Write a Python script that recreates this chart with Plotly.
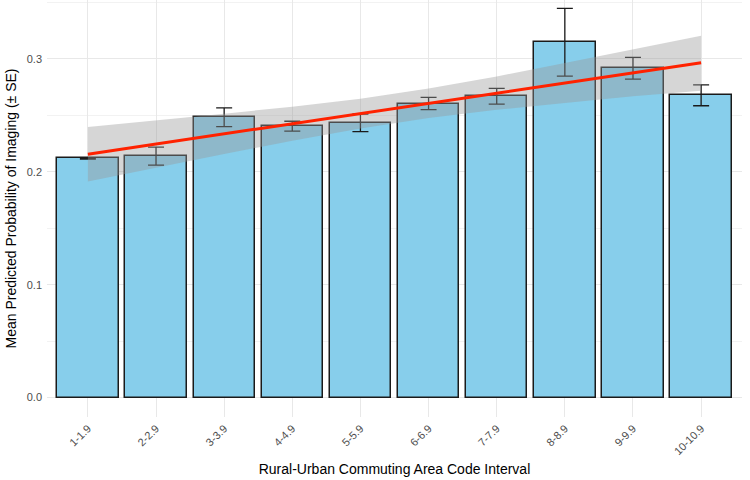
import plotly.graph_objects as go

categories = ["1-1.9", "2-2.9", "3-3.9", "4-4.9", "5-5.9",
              "6-6.9", "7-7.9", "8-8.9", "9-9.9", "10-10.9"]
mean_prob = [0.2118, 0.2139, 0.2484, 0.2404, 0.2434,
             0.2605, 0.2669, 0.3147, 0.2917, 0.2678]
se_prob = [0.0005, 0.0080, 0.0083, 0.0044, 0.0078,
           0.0055, 0.0070, 0.0300, 0.0096, 0.0093]
# fitted trend line and its confidence band, read at each category position
trend_fit = [0.2156, 0.2246, 0.2336, 0.2426, 0.2516,
             0.2607, 0.2697, 0.2787, 0.2877, 0.2967]
trend_upper = [0.2398, 0.2455, 0.2515, 0.2577, 0.2648,
               0.2738, 0.2845, 0.2965, 0.3085, 0.3206]
trend_lower = [0.1914, 0.2037, 0.2157, 0.2275, 0.2384,
               0.2476, 0.2549, 0.2609, 0.2669, 0.2719]

pos = list(range(1, len(categories) + 1))

fig = go.Figure()
fig.add_trace(go.Bar(
    x=pos, y=mean_prob, width=0.9,
    marker=dict(color="#87CEEB", line=dict(color="#1a1a1a", width=1.5)),
    error_y=dict(type="data", array=se_prob, visible=True,
                 color="#1a1a1a", thickness=1.3, width=8),
    showlegend=False, hoverinfo="skip",
))
fig.add_trace(go.Scatter(
    x=pos, y=trend_upper, mode="lines", line=dict(width=0, color="rgba(0,0,0,0)"),
    showlegend=False, hoverinfo="skip",
))
fig.add_trace(go.Scatter(
    x=pos, y=trend_lower, mode="lines", line=dict(width=0, color="rgba(0,0,0,0)"),
    fill="tonexty", fillcolor="rgba(153,153,153,0.4)",
    showlegend=False, hoverinfo="skip",
))
fig.add_trace(go.Scatter(
    x=pos, y=trend_fit, mode="lines", line=dict(color="#ff2200", width=3),
    showlegend=False, hoverinfo="skip",
))

font_family = "Liberation Sans, Arial, sans-serif"
fig.update_layout(
    width=750, height=480,
    margin=dict(l=47, r=8, t=0, b=63),
    paper_bgcolor="white", plot_bgcolor="white",
    font=dict(family=font_family, color="#000000"),
    bargap=0,
)
fig.update_xaxes(
    range=[0.4, 10.6],
    tickmode="array", tickvals=pos, ticktext=categories,
    tickangle=-45, tickfont=dict(size=11, color="#4d4d4d"),
    ticklabelstandoff=2,
    showgrid=True, gridcolor="#e8e8e8", gridwidth=1,
    zeroline=False, showline=False, ticks="",
    title=dict(text="Rural-Urban Commuting Area Code Interval",
               font=dict(size=14, color="#000000"), standoff=8),
)
fig.update_yaxes(
    range=[-0.0172, 0.3522],
    tickmode="array", tickvals=[0.0, 0.1, 0.2, 0.3],
    ticktext=["0.0", "0.1", "0.2", "0.3"],
    tickfont=dict(size=11, color="#4d4d4d"),
    ticklabelstandoff=4,
    showgrid=True, gridcolor="#e8e8e8", gridwidth=1,
    minor=dict(tickvals=[0.05, 0.15, 0.25, 0.35], showgrid=True,
               gridcolor="#f2f2f2", gridwidth=0.6),
    zeroline=False, showline=False, ticks="",
    title=dict(text="Mean Predicted Probability of Imaging (± SE)",
               font=dict(size=14, color="#000000"), standoff=6),
)

fig.write_html("out.html")
